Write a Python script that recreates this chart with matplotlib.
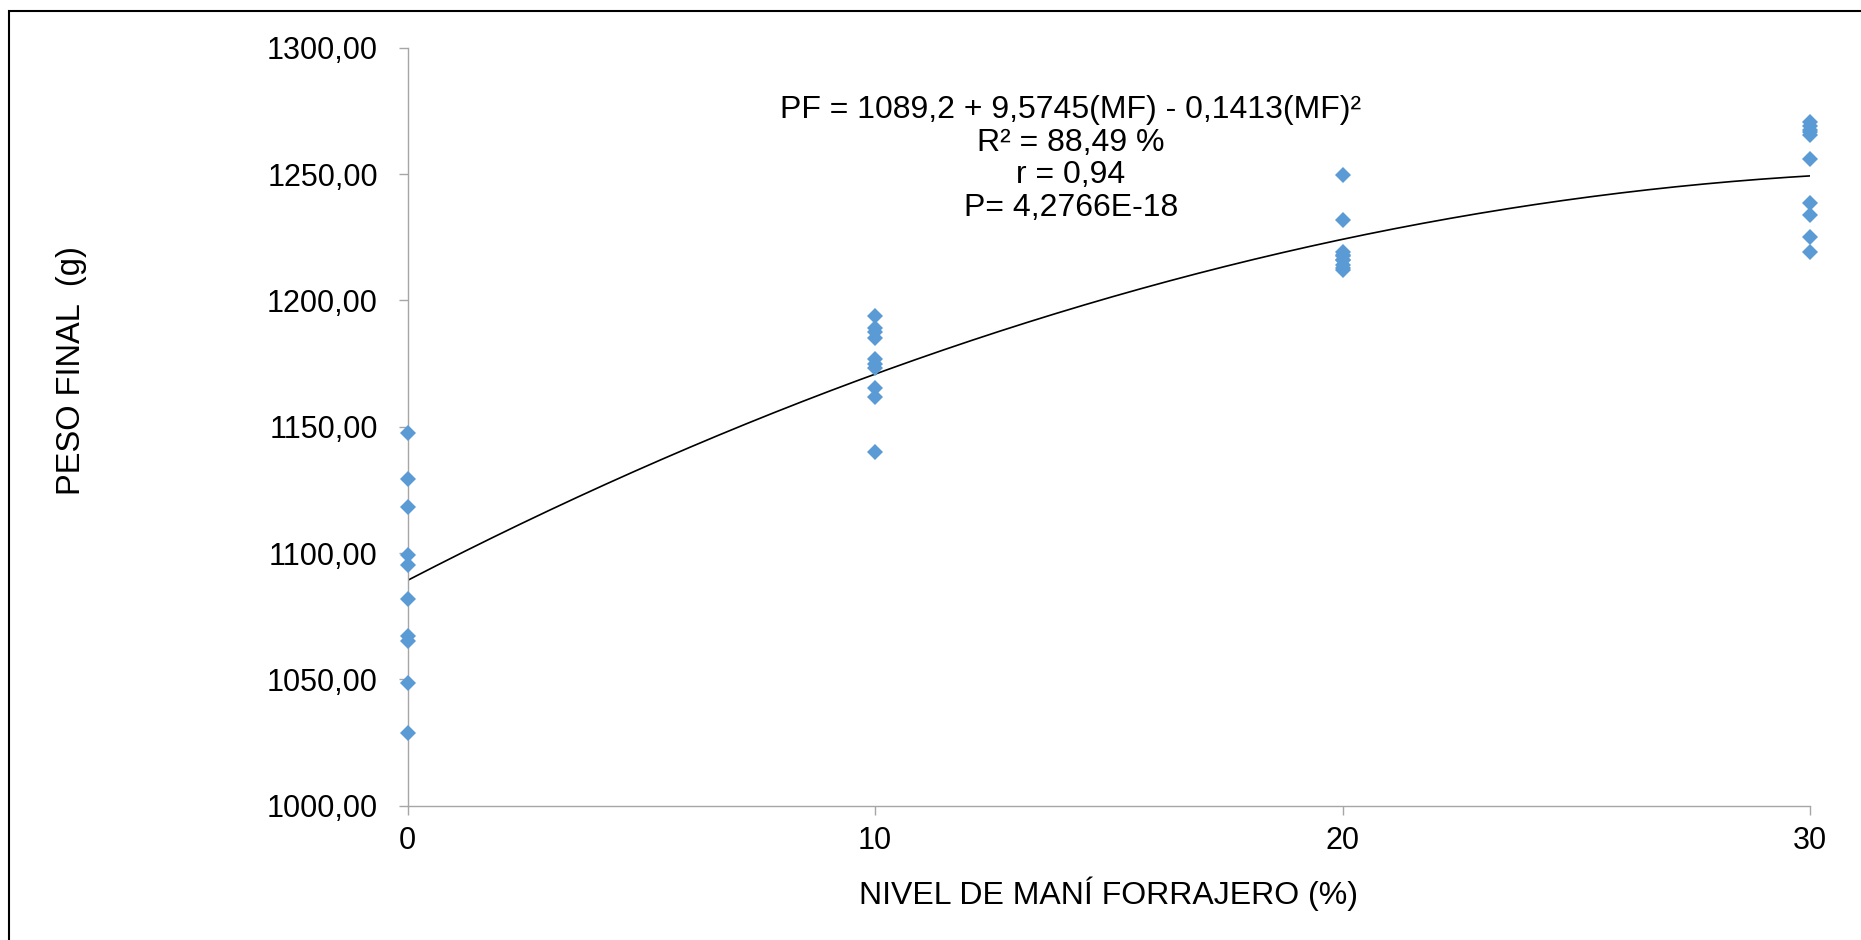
import numpy as np
from matplotlib import pyplot as plt
from matplotlib.patches import Rectangle

# Datos
nivel_mf = [0] * 10 + [10] * 10 + [20] * 10 + [30] * 10
peso_final = [
    1147.4, 1129.2, 1118.3, 1099.2, 1095.3, 1081.8, 1067.2, 1065.3, 1048.7, 1028.7,
    1193.8, 1189.2, 1187.5, 1185.2, 1176.8, 1174.8, 1173.1, 1165.2, 1161.9, 1139.9,
    1249.6, 1231.8, 1219.2, 1218.0, 1217.5, 1216.0, 1215.9, 1213.9, 1212.8, 1211.9,
    1270.7, 1269.0, 1267.5, 1266.7, 1265.4, 1255.8, 1238.4, 1233.8, 1225.2, 1219.2,
]
# Coeficientes de la regresión cuadrática (a + b*MF + c*MF^2)
coef = [1089.2, 9.5745, -0.1413]
x_ticks = [0, 10, 20, 30]
y_ticks = [1000, 1050, 1100, 1150, 1200, 1250, 1300]

texto_ecuacion = ('PF = 1089,2 + 9,5745(MF) - 0,1413(MF)²\n'
                  'R² = 88,49 %\n'
                  'r = 0,94\n'
                  'P= 4,2766E-18')

plt.rcParams['font.family'] = ['Liberation Sans', 'DejaVu Sans']

W, H = 1861, 940
fig = plt.figure(figsize=(W / 100, H / 100), dpi=100)

# Ejes en coordenadas de píxel del original
x0, x1 = 407.7, 1810
y_top, y_bot = 47.7, 805.7
ax = fig.add_axes([x0 / W, 1 - y_bot / H, (x1 - x0) / W, (y_bot - y_top) / H])

gris = '#A6A6A6'

# Curva de tendencia
xs = np.linspace(0, 30, 200)
ys = coef[0] + coef[1] * xs + coef[2] * xs ** 2
ax.plot(xs, ys, color='black', lw=1.2, zorder=2)

# Puntos
ax.plot(nivel_mf, peso_final, linestyle='none', marker='D', ms=7.7,
        color='#5B9BD5', markeredgewidth=0, zorder=3, clip_on=False)

ax.set_xlim(0, 30)
ax.set_ylim(1000, 1300)
ax.set_xticks(x_ticks)
ax.set_yticks(y_ticks)
ax.set_xticklabels([str(v) for v in x_ticks])
ax.set_yticklabels([f'{v},00' for v in y_ticks])

for lado in ['top', 'right']:
    ax.spines[lado].set_visible(False)
for lado in ['left', 'bottom']:
    ax.spines[lado].set_color(gris)
    ax.spines[lado].set_linewidth(1.0)

ax.tick_params(axis='both', direction='out', length=6.5, width=1.0,
               color=gris, labelsize=22, labelcolor='black')
ax.tick_params(axis='y', pad=15)
ax.tick_params(axis='x', pad=8)

# Rótulos
ax.set_xlabel('NIVEL DE MANÍ FORRAJERO (%)', fontsize=23, labelpad=15)
fig.text(71.5 / W, 1 - 371 / H, 'PESO FINAL  (g)', rotation=90,
         ha='center', va='center', fontsize=23.5)

# Ecuación
fig.text(1071 / W, 1 - 159 / H, texto_ecuacion, ha='center', va='center',
         multialignment='center', fontsize=23, linespacing=1.12)

# Marco exterior
fig.patches.append(Rectangle((8.5 / W, -0.1), 1.2, (1 - 10.7 / H) + 0.1,
                             transform=fig.transFigure, fill=False,
                             edgecolor='black', lw=1.5))

fig.savefig('out.png', dpi=100)
